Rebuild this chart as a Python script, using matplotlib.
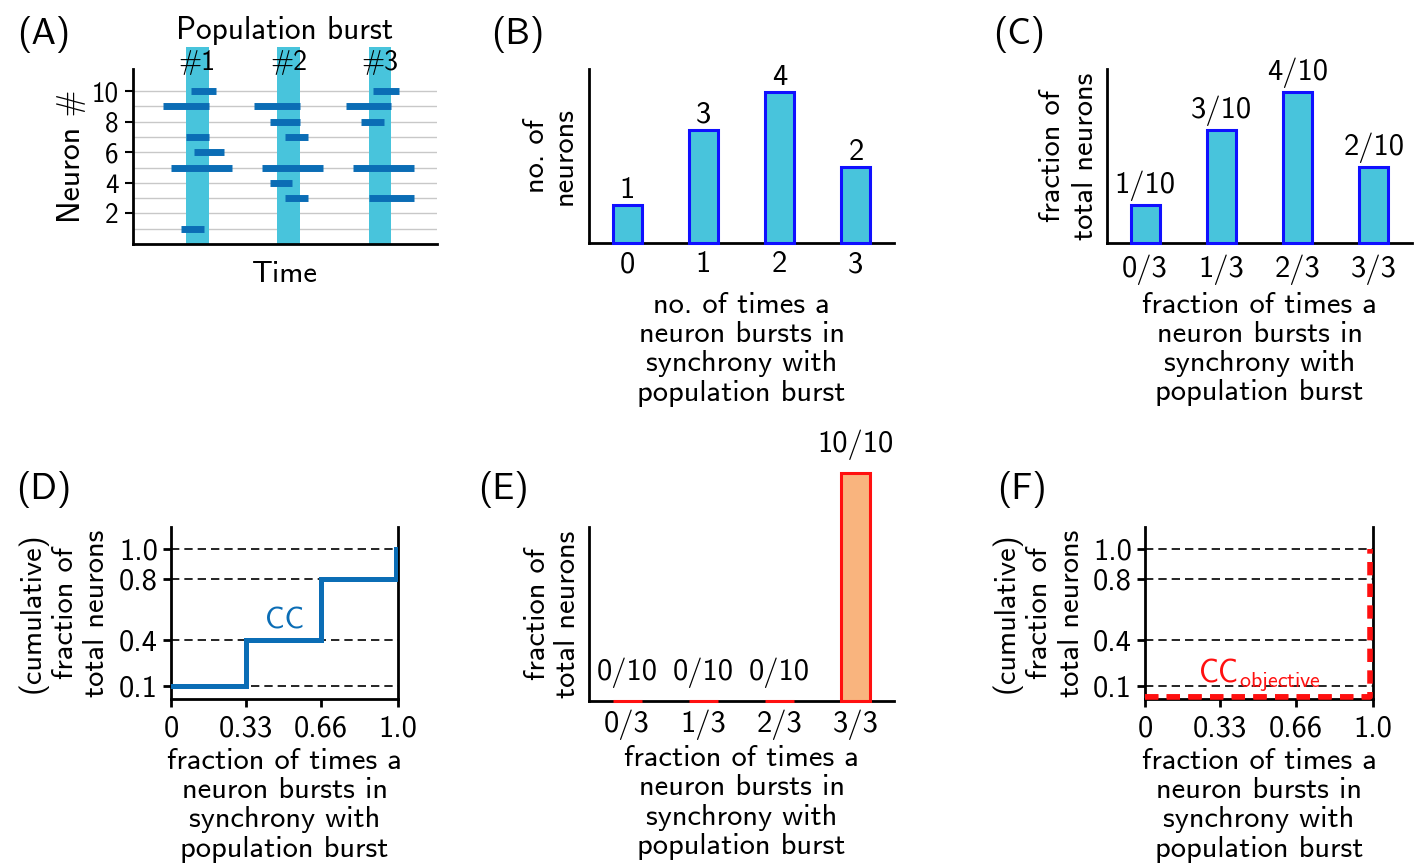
import matplotlib.pyplot as plt
import numpy as np

plt.rcParams['font.family'] = 'cmss10'
plt.rcParams['mathtext.fontset'] = 'cm'
plt.rcParams['axes.unicode_minus'] = False
plt.rcParams['axes.linewidth'] = 2

# raster of ten neurons around three population bursts
burst_start = [1.75, 4.75, 7.75]
burst_end = [2.5, 5.5, 8.5]
burst_names = ['#1', '#2', '#3']
spike_neuron = [10, 9, 7, 6, 5, 1, 9, 8, 7, 5, 4, 3, 10, 9, 8, 5, 3]
spike_start = [1.9, 1.0, 1.75, 2.0, 1.25, 1.6, 4.0, 4.5, 5.0, 4.25, 4.5, 5.0,
               7.9, 7.0, 7.5, 7.25, 7.75]
spike_end = [2.75, 2.5, 2.5, 3.0, 3.25, 2.35, 5.5, 5.5, 5.75, 6.25, 5.25, 5.75,
             8.75, 8.5, 8.25, 9.25, 9.25]

# histogram of synchrony counts
sync_counts = [1, 3, 4, 2]
count_ticks = ['0', '1', '2', '3']
frac_ticks = ['0/3', '1/3', '2/3', '3/3']
frac_labels = ['1/10', '3/10', '4/10', '2/10']

# cumulative curve
cc_x = [0, 0.33, 0.66, 0.99]
cc_y = [0.1, 0.4, 0.8, 1.0]
cum_ticks = [0.1, 0.4, 0.8, 1.0]
cum_ticklabels = ['0.1', '0.4', '0.8', '1.0']
x_ticks = [0, 0.33, 0.66, 1.0]
x_ticklabels = ['0', '0.33', '0.66', '1.0']

# objective distribution
obj_frac = [0, 0, 0, 1.0]
obj_labels = ['0/10', '0/10', '0/10', '10/10']
obj_x = [0, 0.985]
obj_y = [0.03, 1.0]

spike_blue = '#0b6db5'
band_cyan = '#48c4dc'
fs = 22
xlab = 'fraction of times a\nneuron bursts in\nsynchrony with\npopulation burst'

fig = plt.figure(figsize=(14.18, 8.65), dpi=100)

# (A) raster
ax = fig.add_axes([0.0936, 0.7179, 0.2146, 0.2023])
for n in range(1, 11):
    ax.axhline(n, color='#c8c8c8', lw=1, zorder=0)
for s, e, name in zip(burst_start, burst_end, burst_names):
    ax.fill_between([s, e], 0, 12.9, color=band_cyan, lw=0, zorder=1, clip_on=False)
    ax.text((s + e) / 2, 11.9, name, ha='center', va='center', fontsize=20)
ax.hlines(spike_neuron, spike_start, spike_end, color=spike_blue, lw=5, zorder=2)
ax.text(5, 14.0, 'Population burst', ha='center', va='center', fontsize=22.5)
ax.set_xlim(0, 10)
ax.set_ylim(0, 11.45)
ax.set_yticks([2, 4, 6, 8, 10])
ax.set_xticks([])
ax.tick_params(axis='y', length=6, width=1.5, labelsize=19.5, pad=4)
ax.spines[['top', 'right']].set_visible(False)
ax.set_xlabel('Time', fontsize=22, labelpad=12)
ax.set_ylabel('Neuron #', fontsize=23, labelpad=4)


def bar_panel(rect, heights, labels, ticks, ylim, ylabel, xlabel, face, edge, pad,
              ypad, yspacing, xpad, tpad):
    ax = fig.add_axes(rect)
    x = np.arange(len(heights))
    bars = ax.bar(x, heights, width=0.38, color=face, edgecolor=edge, lw=2.2,
                  clip_on=False, zorder=3)
    ax.bar_label(bars, labels=labels, padding=pad, fontsize=fs, annotation_clip=False)
    ax.set_xlim(-0.5, 3.5)
    ax.set_ylim(0, ylim)
    ax.set_xticks(x, ticks)
    ax.set_yticks([])
    ax.tick_params(axis='x', length=0, labelsize=fs, pad=tpad)
    ax.spines[['top', 'right']].set_visible(False)
    ax.set_ylabel(ylabel, fontsize=fs, labelpad=ypad, linespacing=yspacing)
    ax.set_xlabel(xlabel, fontsize=fs, labelpad=xpad, linespacing=1.1)
    return ax


# (B) counts
bar_panel([0.4154, 0.7191, 0.2151, 0.2012], sync_counts, [str(c) for c in sync_counts],
          count_ticks, 4.61, 'no. of\nneurons',
          'no. of times a\nneuron bursts in\nsynchrony with\npopulation burst',
          band_cyan, '#1010ff', 1, 8, 1.05, 10, 6)

# (C) fractions
bar_panel([0.7807, 0.7191, 0.2151, 0.2012], [c / 10 for c in sync_counts], frac_labels,
          frac_ticks, 0.461, 'fraction of\ntotal neurons', xlab,
          band_cyan, '#1010ff', 3, 6, 1.25, 5, 8)

# (E) objective fractions
bar_panel([0.4154, 0.1896, 0.2151, 0.2012], obj_frac, obj_labels,
          frac_ticks, 0.763, 'fraction of\ntotal neurons', xlab,
          '#f9b47e', '#ff1010', 9, 6, 1.15, 4, 6)


def cum_panel(rect):
    ax = fig.add_axes(rect)
    for y in cum_ticks:
        ax.plot([0, 1], [y, y], color='k', lw=1.2, ls=(0, (5, 3)), zorder=1)
    ax.set_xlim(0, 1)
    ax.set_ylim(0.0146, 1.1446)
    ax.set_yticks(cum_ticks, cum_ticklabels)
    ax.set_xticks(x_ticks, x_ticklabels)
    ax.tick_params(labelsize=fs, length=6, width=2)
    ax.tick_params(axis='x', pad=6)
    ax.spines['top'].set_visible(False)
    ax.set_ylabel('(cumulative)\nfraction of\ntotal neurons', fontsize=fs, labelpad=6)
    ax.set_xlabel(xlab, fontsize=fs, labelpad=4, linespacing=1.1)
    return ax


# (D) cumulative curve
ax = cum_panel([0.1206, 0.1919, 0.1601, 0.1988])
ax.step(cc_x, cc_y, where='post', color=spike_blue, lw=3.6, zorder=3, solid_joinstyle='miter')
ax.text(0.5, 0.53, 'CC', color=spike_blue, fontsize=22, ha='center', va='center')

# (F) objective cumulative curve
ax = cum_panel([0.8075, 0.1919, 0.1608, 0.1988])
ax.step(obj_x, obj_y, where='post', color='#ff1010', lw=4, ls=(0, (2.4, 1.5)), zorder=3,
        clip_on=False)
ax.plot([0, obj_x[1]], [obj_y[0], obj_y[0]], color='#ff1010', lw=4, ls=(0, (2.4, 1.5)), zorder=3)
ax.text(0.5, 0.17, r'$\mathsf{CC}_{\mathsf{objective}}$', color='#ff1010', fontsize=22.5,
        ha='center', va='center')

# panel letters
for lab, x, y in [('(A)', 0.031, 0.960), ('(B)', 0.365, 0.960), ('(C)', 0.719, 0.960),
                  ('(D)', 0.031, 0.434), ('(E)', 0.355, 0.434), ('(F)', 0.721, 0.434)]:
    fig.text(x, y, lab, fontsize=26.5, ha='center', va='center')

fig.savefig('out.png', dpi=100)
